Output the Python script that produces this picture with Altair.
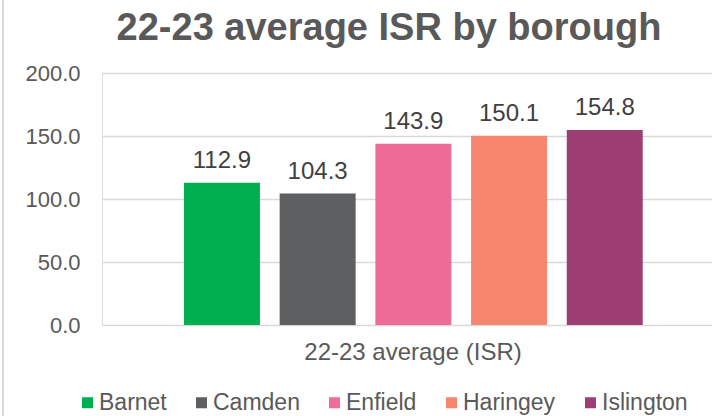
import altair as alt
import pandas as pd

# Borough values for the 22-23 average ISR
boroughs = ["Barnet", "Camden", "Enfield", "Haringey", "Islington"]
isr_values = [112.9, 104.3, 143.9, 150.1, 154.8]
bar_colors = ["#00B050", "#5E5F61", "#F06C98", "#F7866E", "#9D3F73"]
category = "22-23 average (ISR)"
y_ticks = [0, 50, 100, 150, 200]

df = pd.DataFrame({
    "category": [category] * len(boroughs),
    "borough": boroughs,
    "isr": isr_values,
})

FONT = "Liberation Sans"
GREY_TEXT = "#595959"
GRID = "#D9D9D9"

x_enc = alt.X("category:N",
              scale=alt.Scale(paddingInner=0, paddingOuter=0),
              axis=alt.Axis(title=None, labelFontSize=24, labelColor=GREY_TEXT,
                            labelFont=FONT, labelAngle=0, ticks=False, domain=False,
                            labelPadding=15, labelOffset=6, labelLimit=500))
xoff_enc = alt.XOffset("borough:N", sort=boroughs,
                       scale=alt.Scale(paddingInner=0.206, paddingOuter=0.79, align=0.542))
y_enc = alt.Y("isr:Q",
              scale=alt.Scale(domain=[0, 200], nice=False),
              axis=alt.Axis(title=None, values=y_ticks, format=".1f",
                            labelFontSize=22, labelColor=GREY_TEXT, labelFont=FONT,
                            ticks=False, domain=False, labelPadding=22,
                            grid=True, gridColor=GRID, gridWidth=1.3))

base = alt.Chart(df).encode(x=x_enc, xOffset=xoff_enc, y=y_enc)

bars = base.mark_bar().encode(
    color=alt.Color("borough:N", sort=boroughs,
                    scale=alt.Scale(domain=boroughs, range=bar_colors),
                    legend=alt.Legend(title=None, orient="none", direction="horizontal",
                                      legendX=-26, legendY=318,
                                      symbolType="square", symbolSize=121,
                                      symbolStrokeWidth=0,
                                      labelFontSize=23, labelFont=FONT,
                                      labelColor=GREY_TEXT, labelOffset=0,
                                      columnPadding=23, labelLimit=300))
)

labels = base.mark_text(baseline="alphabetic", dy=-15, fontSize=24,
                        font=FONT, color="#404040").encode(
    text=alt.Text("isr:Q", format=".1f")
)

# thin frame line along the left edge of the chart, full height
frame = alt.Chart(df).mark_rule(color=GRID, strokeWidth=1.5).encode(
    x=alt.value(-99), y=alt.value(-73), y2=alt.value(343)
)

chart = alt.layer(bars, labels, frame).properties(
    width=610,
    height=252,
    title=alt.TitleParams("22-23 average ISR by borough", fontSize=38,
                          fontWeight="bold", color=GREY_TEXT, font=FONT,
                          anchor="middle", frame="group", baseline="alphabetic",
                          offset=0, dx=-18, dy=79),
    padding={"left": 102, "top": 73, "right": 0, "bottom": 91},
    autosize=alt.AutoSizeParams(type="none"),
).configure_view(stroke=None).configure(background="white")

chart.save("out.html", embed_options={"renderer": "svg", "actions": False})
